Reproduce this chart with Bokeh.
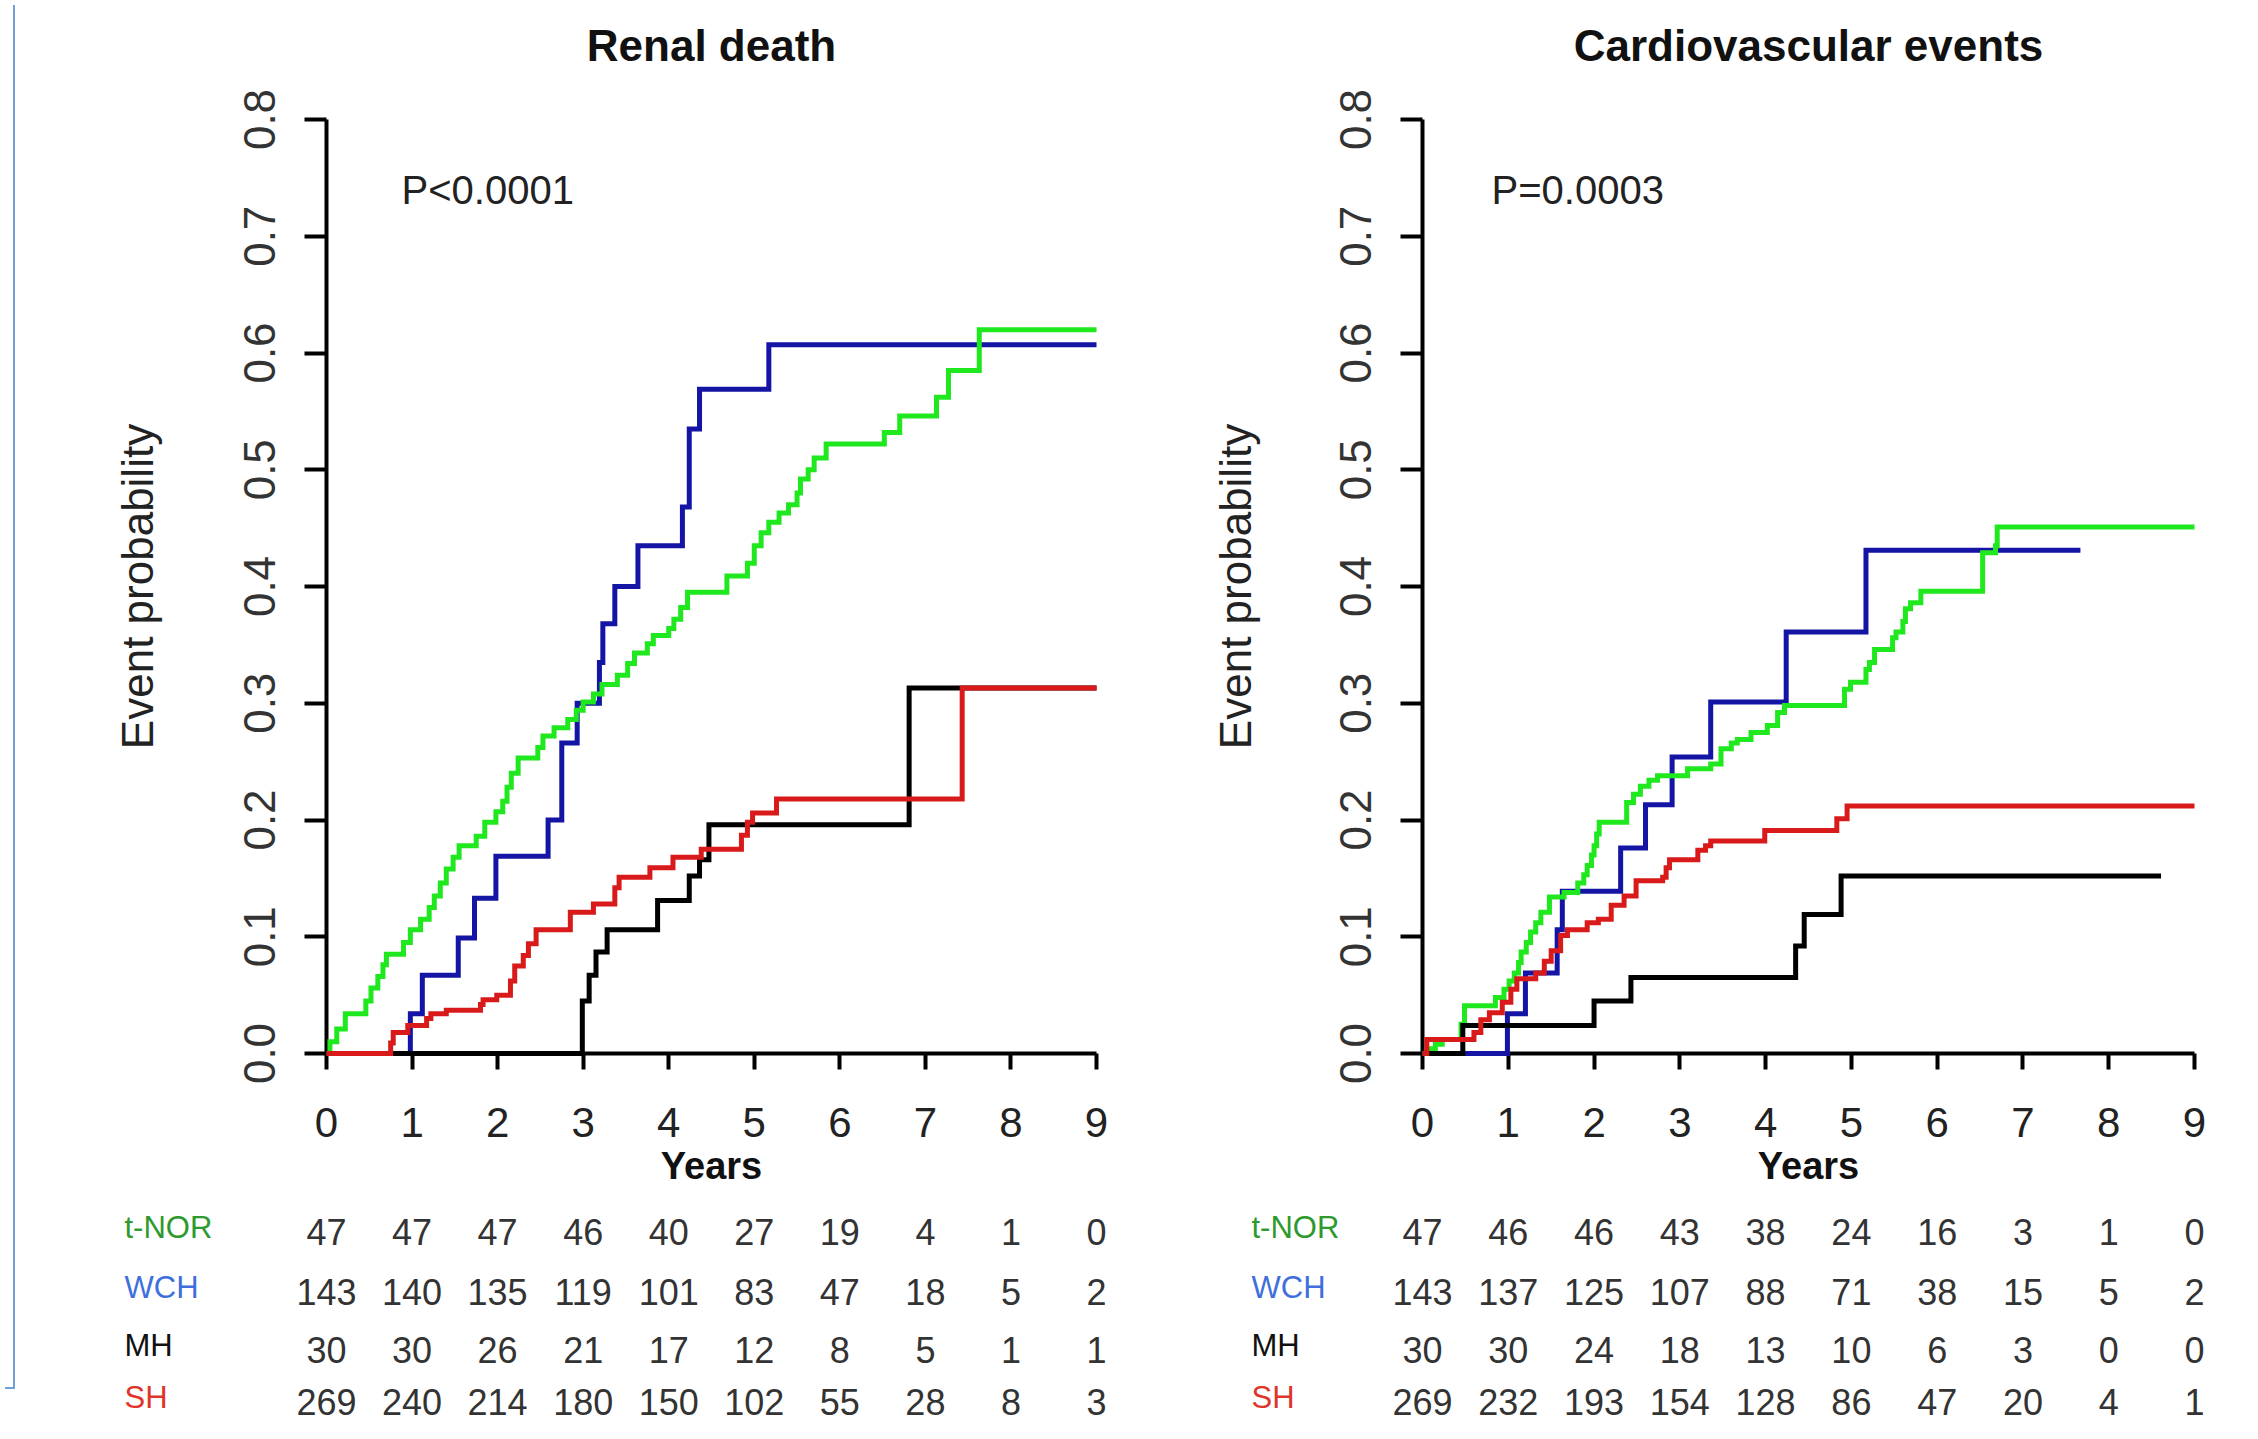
import math
from bokeh.plotting import figure
from bokeh.models import (ColumnDataSource, Range1d, FixedTicker, PrintfTickFormatter, Div)
from bokeh.layouts import row
from bokeh.core.properties import value
from bokeh.embed import file_html
from bokeh.resources import INLINE

FONT = "Liberation Sans"

# ---------------- data ----------------
years = [0, 1, 2, 3, 4, 5, 6, 7, 8, 9]
y_ticks = [0.0, 0.1, 0.2, 0.3, 0.4, 0.5, 0.6, 0.7, 0.8]
groups = ["t-NOR", "WCH", "MH", "SH"]
label_colors = ["#2E9A2E", "#3F6FDD", "#111111", "#E0352B"]
curve_colors = {"t-NOR": "#1FE81F", "WCH": "#1515A5", "MH": "#000000", "SH": "#D91A1A"}

# Renal death: cumulative event probability (step, value holds after time)
renal_tnor_t = [0.00, 0.04, 0.12, 0.22, 0.46, 0.52, 0.60, 0.66, 0.70, 0.90, 0.98, 1.10, 1.20, 1.26,
                1.33, 1.40, 1.48, 1.55, 1.75, 1.85, 1.98, 2.06, 2.11, 2.16, 2.24, 2.47, 2.53, 2.66,
                2.82, 2.92, 3.00, 3.12, 3.22, 3.40, 3.52, 3.60, 3.75, 3.82, 4.00, 4.06, 4.14, 4.22,
                4.68, 4.92, 5.00, 5.08, 5.17, 5.29, 5.40, 5.50, 5.54, 5.63, 5.70, 5.84, 6.52, 6.70,
                7.13, 7.27, 7.63, 9.00]
renal_tnor_p = [0.000, 0.010, 0.021, 0.034, 0.045, 0.056, 0.066, 0.076, 0.085, 0.095, 0.106, 0.115,
                0.125, 0.135, 0.146, 0.158, 0.168, 0.178, 0.186, 0.198, 0.207, 0.216, 0.228, 0.240,
                0.253, 0.262, 0.272, 0.279, 0.286, 0.294, 0.301, 0.308, 0.316, 0.324, 0.334, 0.343,
                0.351, 0.358, 0.364, 0.372, 0.382, 0.395, 0.409, 0.420, 0.435, 0.446, 0.455, 0.463,
                0.470, 0.480, 0.492, 0.500, 0.510, 0.522, 0.532, 0.546, 0.562, 0.585, 0.620, 0.620]
renal_wch_t = [0.00, 0.98, 1.12, 1.54, 1.73, 1.98, 2.59, 2.75, 2.93, 3.19, 3.23, 3.37, 3.64, 4.16,
               4.24, 4.36, 5.17, 9.00]
renal_wch_p = [0.000, 0.034, 0.067, 0.099, 0.133, 0.169, 0.200, 0.266, 0.300, 0.335, 0.368, 0.400,
               0.435, 0.468, 0.535, 0.569, 0.607, 0.607]
renal_mh_t = [0.00, 2.99, 3.07, 3.15, 3.28, 3.87, 4.24, 4.36, 4.47, 6.81, 9.00]
renal_mh_p = [0.000, 0.045, 0.067, 0.087, 0.106, 0.131, 0.152, 0.166, 0.196, 0.313, 0.313]
renal_sh_t = [0.00, 0.75, 0.78, 0.95, 1.17, 1.22, 1.40, 1.80, 1.83, 1.99, 2.15, 2.20, 2.30, 2.36,
              2.45, 2.85, 3.12, 3.37, 3.42, 3.78, 4.05, 4.38, 4.85, 4.92, 4.98, 5.26, 7.43, 9.00]
renal_sh_p = [0.000, 0.009, 0.018, 0.024, 0.030, 0.034, 0.037, 0.042, 0.046, 0.050, 0.062, 0.075,
              0.084, 0.094, 0.106, 0.121, 0.128, 0.142, 0.151, 0.159, 0.168, 0.175, 0.187, 0.198,
              0.206, 0.218, 0.313, 0.313]

# Cardiovascular events
cv_tnor_t = [0.00, 0.06, 0.15, 0.23, 0.45, 0.49, 0.85, 0.95, 1.01, 1.07, 1.12, 1.15, 1.21, 1.26,
             1.32, 1.38, 1.48, 1.65, 1.81, 1.88, 1.92, 1.97, 2.00, 2.03, 2.06, 2.38, 2.46, 2.54,
             2.64, 2.74, 3.09, 3.36, 3.48, 3.60, 3.67, 3.83, 4.02, 4.14, 4.22, 4.92, 4.99, 5.17,
             5.21, 5.27, 5.48, 5.52, 5.60, 5.63, 5.69, 5.81, 6.53, 6.68, 6.70, 9.00]
cv_tnor_p = [0.000, 0.004, 0.008, 0.012, 0.025, 0.041, 0.048, 0.055, 0.062, 0.069, 0.078, 0.087,
             0.095, 0.104, 0.112, 0.121, 0.134, 0.138, 0.146, 0.153, 0.161, 0.170, 0.178, 0.188,
             0.198, 0.215, 0.222, 0.229, 0.234, 0.238, 0.244, 0.248, 0.261, 0.266, 0.269, 0.275,
             0.281, 0.292, 0.298, 0.312, 0.318, 0.329, 0.335, 0.346, 0.356, 0.361, 0.370, 0.381,
             0.386, 0.396, 0.429, 0.435, 0.451, 0.451]
cv_wch_t = [0.00, 0.99, 1.20, 1.57, 1.63, 2.31, 2.60, 2.91, 3.36, 4.24, 5.17, 7.67]
cv_wch_p = [0.000, 0.034, 0.069, 0.106, 0.139, 0.176, 0.213, 0.254, 0.301, 0.361, 0.431, 0.431]
cv_mh_t = [0.00, 0.47, 2.00, 2.43, 4.35, 4.45, 4.88, 8.61]
cv_mh_p = [0.000, 0.024, 0.045, 0.065, 0.092, 0.119, 0.152, 0.152]
cv_sh_t = [0.00, 0.05, 0.60, 0.68, 0.78, 0.93, 1.03, 1.10, 1.32, 1.42, 1.50, 1.61, 1.69, 1.92,
           2.05, 2.20, 2.35, 2.49, 2.80, 2.84, 2.88, 3.21, 3.30, 3.36, 3.99, 4.83, 4.95, 9.00]
cv_sh_p = [0.000, 0.012, 0.018, 0.029, 0.035, 0.044, 0.055, 0.064, 0.069, 0.079, 0.088, 0.101,
           0.106, 0.112, 0.115, 0.127, 0.135, 0.148, 0.151, 0.159, 0.166, 0.174, 0.178, 0.182,
           0.191, 0.201, 0.212, 0.212]

# numbers at risk
renal_risk = {
    "t-NOR": [47, 47, 47, 46, 40, 27, 19, 4, 1, 0],
    "WCH": [143, 140, 135, 119, 101, 83, 47, 18, 5, 2],
    "MH": [30, 30, 26, 21, 17, 12, 8, 5, 1, 1],
    "SH": [269, 240, 214, 180, 150, 102, 55, 28, 8, 3],
}
cv_risk = {
    "t-NOR": [47, 46, 46, 43, 38, 24, 16, 3, 1, 0],
    "WCH": [143, 137, 125, 107, 88, 71, 38, 15, 5, 2],
    "MH": [30, 30, 24, 18, 13, 10, 6, 3, 0, 0],
    "SH": [269, 232, 193, 154, 128, 86, 47, 20, 4, 1],
}

# ---------------- layout geometry (page pixels of the reference) ----------------
TOP_PX, BOTTOM_PX = 8, 1431            # figure vertical extent
Y0_PX, Y08_PX = 1061, 127              # pixel rows of prob 0.0 and 0.8
PPU = (Y0_PX - Y08_PX) / y_ticks[-1]   # pixels per probability unit
TITLE_PX = 53
YEARS_PX = 1173
PTEXT_PX = 197
ROW_PX = [1239, 1299, 1357, 1409]      # number rows of the risk table

PANELS = {
    "left": dict(fl=18, fr=1160, x0=324, x9=1094, lab=122, ylab=135, ptx=399),
    "right": dict(fl=1160, fr=2235, x0=1420, x9=2192, lab=1249, ylab=1233, ptx=1489),
}


def ydata(px):
    return (Y0_PX - px) / PPU


def make_panel(title, ptext, curves, risk, g):
    ppy = (g["x9"] - g["x0"]) / years[-1]

    def xdata(px):
        return (px - g["x0"]) / ppy

    p = figure(width=g["fr"] - g["fl"], height=BOTTOM_PX - TOP_PX,
               x_range=Range1d(xdata(g["fl"]), xdata(g["fr"])),
               y_range=Range1d(ydata(BOTTOM_PX), ydata(TOP_PX)),
               output_backend="svg", toolbar_location=None,
               min_border=0, min_border_left=0, min_border_right=0,
               min_border_top=0, min_border_bottom=0)
    p.outline_line_color = None
    p.background_fill_color = "white"
    p.border_fill_color = "white"
    p.xgrid.visible = False
    p.ygrid.visible = False

    for name, t, v in curves:
        src = ColumnDataSource(dict(t=t, v=v))
        p.step(x="t", y="v", source=src, mode="after", line_width=5,
               line_color=curve_colors[name], line_join="miter")

    xa = p.xaxis[0]
    xa.fixed_location = 0
    xa.level = "underlay"
    xa.ticker = FixedTicker(ticks=years)
    xa.bounds = (years[0], years[-1])
    xa.axis_line_width = 4
    xa.major_tick_line_width = 4
    xa.major_tick_out = 16
    xa.major_tick_in = 0
    xa.minor_tick_line_color = None
    xa.major_label_text_font = FONT
    xa.major_label_text_font_size = "42px"
    xa.major_label_text_color = "#222222"
    xa.major_label_standoff = 38

    ya = p.yaxis[0]
    ya.fixed_location = 0
    ya.level = "underlay"
    ya.ticker = FixedTicker(ticks=y_ticks)
    ya.formatter = PrintfTickFormatter(format="%.1f")
    ya.bounds = (y_ticks[0], y_ticks[-1])
    ya.axis_line_width = 4
    ya.major_tick_line_width = 4
    ya.major_tick_out = 22
    ya.major_tick_in = 0
    ya.minor_tick_line_color = None
    ya.major_label_orientation = "vertical"
    ya.major_label_text_font = FONT
    ya.major_label_text_font_size = "44px"
    ya.major_label_text_color = "#333333"
    ya.major_label_standoff = 30

    mid_x = (years[0] + years[-1]) / 2
    # title
    p.text(x=[mid_x], y=[ydata(TITLE_PX)], text=[title], text_align="center",
           text_baseline="middle", text_font=value(FONT), text_font_size=value("44px"),
           text_font_style="bold", text_color="#111111")
    # axis titles
    p.text(x=[mid_x], y=[ydata(YEARS_PX)], text=["Years"], text_align="center",
           text_baseline="middle", text_font=value(FONT), text_font_size=value("38px"),
           text_font_style="bold", text_color="#111111")
    p.text(x=[xdata(g["ylab"])], y=[(y_ticks[0] + y_ticks[-1]) / 2], text=["Event probability"],
           angle=math.pi / 2, text_align="center", text_baseline="middle",
           text_font=value(FONT), text_font_size=value("44px"), text_color="#222222")
    # p-value
    p.text(x=[xdata(g["ptx"])], y=[ydata(PTEXT_PX)], text=[ptext], text_align="left",
           text_baseline="middle", text_font=value(FONT), text_font_size=value("40px"),
           text_color="#222222")

    # risk table
    xs, ys, txt = [], [], []
    for gname, rpx in zip(groups, ROW_PX):
        for yr, n in zip(years, risk[gname]):
            xs.append(yr)
            ys.append(ydata(rpx))
            txt.append(str(n))
    p.text(x="x", y="y", text="t", source=ColumnDataSource(dict(x=xs, y=ys, t=txt)),
           text_align="center", text_baseline="middle", text_font=value(FONT),
           text_font_size=value("36px"), text_color="#333333")
    lab = ColumnDataSource(dict(x=[xdata(g["lab"])] * len(groups),
                                y=[ydata(r) for r in ROW_PX], t=groups, c=label_colors))
    p.text(x="x", y="y", text="t", source=lab, text_color="c", y_offset=-4,
           text_align="left", text_baseline="middle", text_font=value(FONT),
           text_font_size=value("31px"))
    return p


renal_curves = [("WCH", renal_wch_t, renal_wch_p), ("t-NOR", renal_tnor_t, renal_tnor_p),
                ("MH", renal_mh_t, renal_mh_p), ("SH", renal_sh_t, renal_sh_p)]
cv_curves = [("WCH", cv_wch_t, cv_wch_p), ("t-NOR", cv_tnor_t, cv_tnor_p),
             ("MH", cv_mh_t, cv_mh_p), ("SH", cv_sh_t, cv_sh_p)]

left = make_panel("Renal death", "P<0.0001", renal_curves, renal_risk, PANELS["left"])
right = make_panel("Cardiovascular events", "P=0.0003", cv_curves, cv_risk, PANELS["right"])

edge = Div(text="", width=PANELS["left"]["fl"] - 8, height=1384,
           styles={"border-right": "2px solid #6E9FD8", "border-bottom": "2px solid #6E9FD8",
                   "box-sizing": "border-box"})

layout = row(edge, left, right)

open("out.html", "w").write(file_html(layout, INLINE))
